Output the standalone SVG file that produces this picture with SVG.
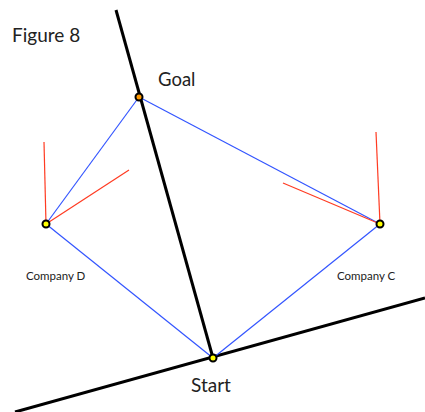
<svg xmlns="http://www.w3.org/2000/svg" width="425" height="412" viewBox="0 0 425 412">
<style>
.axis{stroke:#000;stroke-width:3;fill:none;stroke-linecap:butt}
.blue{stroke:#3355ff;stroke-width:1.2;fill:none}
.red{stroke:#ff3b22;stroke-width:1.2;fill:none}
.pt{stroke:#000;stroke-width:2}
.lbl{font-family:"Lato","Open Sans","DejaVu Sans",sans-serif;fill:#222}
</style>
<rect width="425" height="412" fill="#fff"/>
<text class="lbl" x="12" y="42" font-size="19">Figure 8</text>
<g id="connectors">
<line class="axis" x1="116" y1="10" x2="213" y2="358"/>
<line class="axis" x1="15" y1="412" x2="425" y2="298"/>
<line class="blue" x1="139" y1="97" x2="46" y2="224"/>
<line class="blue" x1="139" y1="97" x2="380" y2="224"/>
<line class="blue" x1="46" y1="224" x2="213" y2="358"/>
<line class="blue" x1="380" y1="224" x2="213" y2="358"/>
<line class="red" x1="46" y1="224" x2="44" y2="142"/>
<line class="red" x1="46" y1="224" x2="129" y2="170"/>
<line class="red" x1="380" y1="224" x2="376" y2="132"/>
<line class="red" x1="380" y1="224" x2="283" y2="183"/>
</g>
<g id="goal">
<circle class="pt" cx="139" cy="97" r="3.5" fill="#ff9900"/>
<text class="lbl" x="158" y="86" font-size="18.5">Goal</text>
</g>
<g id="companyD">
<circle class="pt" cx="46" cy="224" r="3.5" fill="#ffff00"/>
<text class="lbl" x="26" y="280" font-size="11.5">Company D</text>
</g>
<g id="companyC">
<circle class="pt" cx="380" cy="224" r="3.5" fill="#ffff00"/>
<text class="lbl" x="337" y="280" font-size="11.5">Company C</text>
</g>
<g id="start">
<circle class="pt" cx="213" cy="358" r="3.5" fill="#ffff00"/>
<text class="lbl" x="191" y="392" font-size="19">Start</text>
</g>
</svg>
